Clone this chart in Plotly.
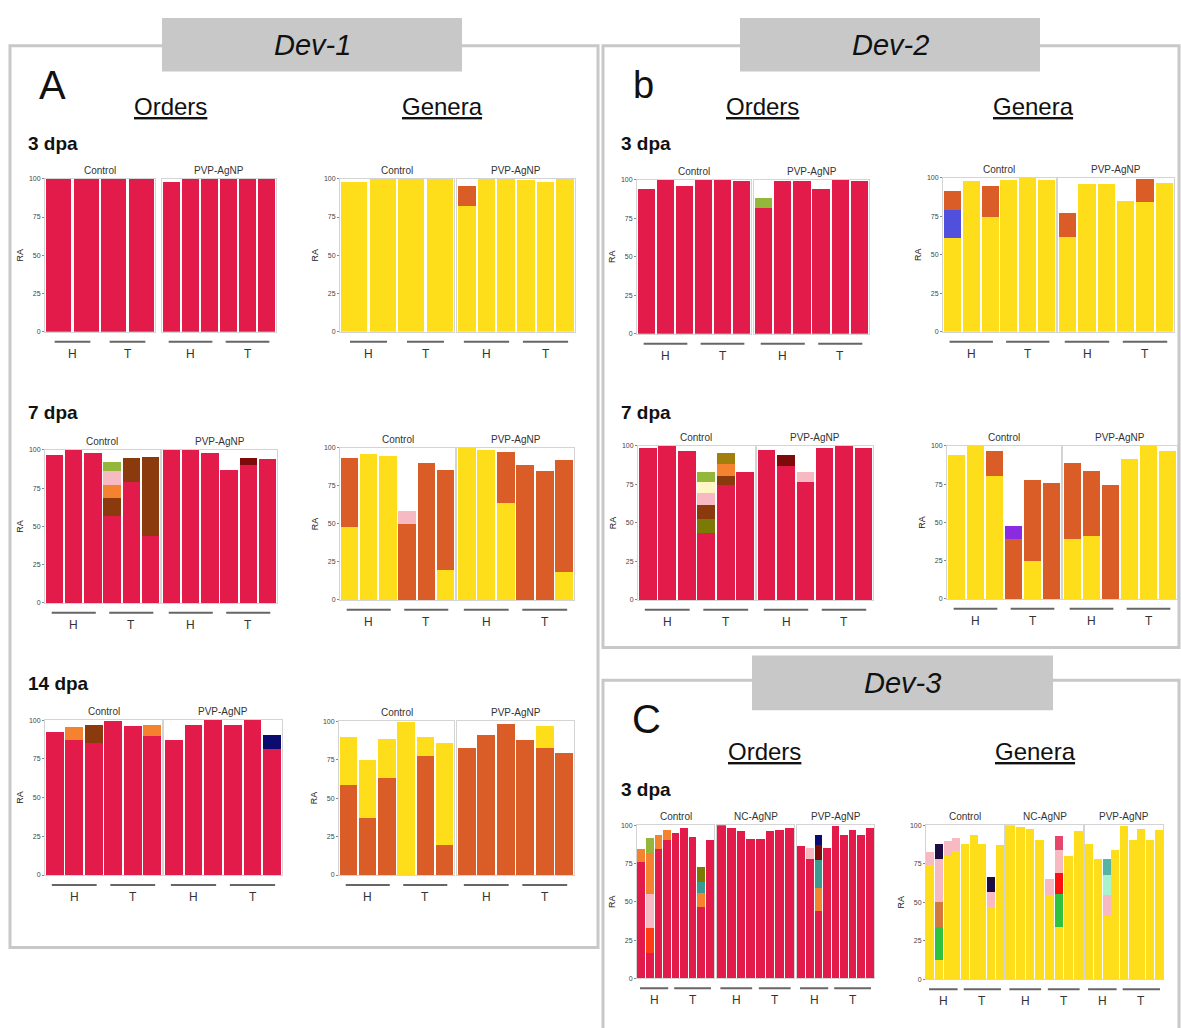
import plotly.graph_objects as go

W, H = 1181, 1028

# ======================= DATA =======================
FACETS_2 = ["Control", "PVP-AgNP"]
FACETS_3 = ["Control", "NC-AgNP", "PVP-AgNP"]
GROUPS_4_6 = ["H", "H", "T", "T"] + ["H", "H", "H", "T", "T", "T"]
GROUPS_6_6 = ["H", "H", "H", "T", "T", "T"] * 2
GROUPS_9_8_9 = ["H"] * 4 + ["T"] * 5 + ["H"] * 4 + ["T"] * 4 + ["H"] * 4 + ["T"] * 5

# ---- Dev-1, 3 dpa ----
d1_o3_red = [100, 100, 100, 100, 98, 100, 100, 100, 100, 100]

d1_g3_yellow = [98, 100, 100, 100, 82, 100, 100, 99, 98, 100]
d1_g3_orange = [0, 0, 0, 0, 13, 0, 0, 0, 0, 0]

# ---- Dev-1, 7 dpa ----
d1_o7_red = [97, 100, 98, 57, 79, 43.5, 100, 100, 98, 87, 90, 94]
d1_o7_darkred = [0, 0, 0, 0, 0, 0, 0, 0, 0, 0, 5, 0]
d1_o7_brown = [0, 0, 0, 11.5, 16, 51.7, 0, 0, 0, 0, 0, 0]
d1_o7_orange = [0, 0, 0, 8.5, 0, 0, 0, 0, 0, 0, 0, 0]
d1_o7_pink = [0, 0, 0, 9, 0, 0, 0, 0, 0, 0, 0, 0]
d1_o7_green = [0, 0, 0, 6, 0, 0, 0, 0, 0, 0, 0, 0]

d1_g7_yellow = [47.8, 96.3, 94.8, 0, 0, 20, 100, 98.7, 63.5, 0, 0, 18.5]
d1_g7_orange = [45.7, 0, 0, 50, 89.8, 65.2, 0, 0, 33.7, 88.5, 84.8, 73.9]
d1_g7_pink = [0, 0, 0, 8.7, 0, 0, 0, 0, 0, 0, 0, 0]

# ---- Dev-1, 14 dpa ----
d1_o14_red = [92.5, 87, 85, 99.4, 96, 89.7, 87, 96.8, 100, 96.8, 100, 81.3]
d1_o14_orange = [0, 8.7, 0, 0, 0, 7.1, 0, 0, 0, 0, 0, 0]
d1_o14_brown = [0, 0, 11.8, 0, 0, 0, 0, 0, 0, 0, 0, 0]
d1_o14_navy = [0, 0, 0, 0, 0, 0, 0, 0, 0, 0, 0, 9.2]

d1_g14_orange = [58.7, 37.2, 63, 0, 77, 19.4, 82.8, 90.8, 98.3, 87.5, 82.8, 79]
d1_g14_yellow = [31, 37.4, 25.6, 99.6, 12.5, 66.6, 0, 0, 0, 0, 14, 0]

# ---- Dev-2, 3 dpa ----
d2_o3_red = [94, 100, 96, 100, 100, 99, 82, 99, 99, 94, 100, 99]
d2_o3_green = [0, 0, 0, 0, 0, 0, 6, 0, 0, 0, 0, 0]

d2_g3_yellow = [61, 97.8, 74.5, 98.3, 100, 98.3, 61.7, 95.7, 95.7, 84.8, 84.2, 96.8]
d2_g3_blue = [17.8, 0, 0, 0, 0, 0, 0, 0, 0, 0, 0, 0]
d2_g3_orange = [12.8, 0, 20.1, 0, 0, 0, 15.6, 0, 0, 0, 15.2, 0]

# ---- Dev-2, 7 dpa ----
d2_o7_red = [99, 100, 96.8, 43.7, 74.7, 82.9, 97.4, 87, 76.8, 99, 100, 99]
d2_o7_darkred = [0, 0, 0, 0, 0, 0, 0, 7.2, 0, 0, 0, 0]
d2_o7_olive = [0, 0, 0, 8.7, 0, 0, 0, 0, 0, 0, 0, 0]
d2_o7_brown = [0, 0, 0, 9.3, 5.8, 0, 0, 0, 0, 0, 0, 0]
d2_o7_orange = [0, 0, 0, 0, 7.5, 0, 0, 0, 0, 0, 0, 0]
d2_o7_pink = [0, 0, 0, 8, 0, 0, 0, 0, 6.5, 0, 0, 0]
d2_o7_lightyellow = [0, 0, 0, 7.1, 0, 0, 0, 0, 0, 0, 0, 0]
d2_o7_green = [0, 0, 0, 6.5, 0, 0, 0, 0, 0, 0, 0, 0]
d2_o7_gold = [0, 0, 0, 0, 7.2, 0, 0, 0, 0, 0, 0, 0]

d2_g7_yellow = [93.9, 100, 80.4, 0, 25, 0, 39, 41, 0, 91.7, 99.8, 96.5]
d2_g7_orange = [0, 0, 16.1, 38.9, 52.6, 76, 49.9, 42.5, 74.8, 0, 0, 0]
d2_g7_purple = [0, 0, 0, 8.9, 0, 0, 0, 0, 0, 0, 0, 0]

# ---- Dev-3, 3 dpa (9 Control, 8 NC-AgNP, 9 PVP-AgNP) ----
d3_o_red = [76, 16.8, 84.3, 90.2, 95.2, 98, 92.4, 46.6, 90.2,
            100, 98, 96.3, 90.8, 91, 96, 96.9, 98,
            86.5, 78.2, 44, 85, 99.6, 94, 97, 94, 98]
d3_o_orangered = [0, 16.2, 0, 0, 0, 0, 0, 0, 0,
                  0, 0, 0, 0, 0, 0, 0, 0,
                  0, 0, 0, 0, 0, 0, 0, 0, 0]
d3_o_pink = [0, 22, 0, 0, 0, 0, 0, 0, 0,
             0, 0, 0, 0, 0, 0, 0, 0,
             0, 6.8, 0, 0, 0, 0, 0, 0, 0]
d3_o_orange = [8.3, 27, 9.4, 6.8, 0, 0, 0, 9.4, 0,
               0, 0, 0, 0, 0, 0, 0, 0,
               0, 0, 14.8, 0, 0, 0, 0, 0, 0]
d3_o_green = [0, 9.5, 0, 0, 0, 0, 0, 0, 0,
              0, 0, 0, 0, 0, 0, 0, 0,
              0, 0, 0, 0, 0, 0, 0, 0, 0]
d3_o_teal = [0, 0, 0, 0, 0, 0, 0, 7, 0,
             0, 0, 0, 0, 0, 0, 0, 0,
             0, 0, 18.3, 0, 0, 0, 0, 0, 0]
d3_o_olive = [0, 0, 0, 0, 0, 0, 0, 10, 0,
              0, 0, 0, 0, 0, 0, 0, 0,
              0, 0, 0, 0, 0, 0, 0, 0, 0]
d3_o_darkred = [0, 0, 0, 0, 0, 0, 0, 0, 0,
                0, 0, 0, 0, 0, 0, 0, 0,
                0, 0, 10, 0, 0, 0, 0, 0, 0]
d3_o_navy = [0, 0, 0, 0, 0, 0, 0, 0, 0,
             0, 0, 0, 0, 0, 0, 0, 0,
             0, 0, 6.6, 0, 0, 0, 0, 0, 0]

d3_g_yellow = [74.3, 12.4, 80.4, 83.3, 88, 94, 88, 47.2, 87,
               100, 98.9, 97.4, 90.7, 54.8, 33.7, 79.8, 96.1,
               88, 78.3, 41.3, 84.1, 99.6, 90.7, 97.4, 90.7, 96.7]
d3_g_green = [0, 21.6, 0, 0, 0, 0, 0, 0, 0,
              0, 0, 0, 0, 0, 21.7, 0, 0,
              0, 0, 0, 0, 0, 0, 0, 0, 0]
d3_g_brown = [0, 16.4, 0, 0, 0, 0, 0, 0, 0,
              0, 0, 0, 0, 0, 0, 0, 0,
              0, 0, 0, 0, 0, 0, 0, 0, 0]
d3_g_red = [0, 0, 0, 0, 0, 0, 0, 0, 0,
            0, 0, 0, 0, 0, 13.5, 0, 0,
            0, 0, 0, 0, 0, 0, 0, 0, 0]
d3_g_pink = [8.3, 27.9, 9.4, 8.4, 0, 0, 0, 9.3, 0,
             0, 0, 0, 0, 10.4, 15.4, 0, 0,
             0, 0, 13.5, 0, 0, 0, 0, 0, 0]
d3_g_mint = [0, 0, 0, 0, 0, 0, 0, 0, 0,
             0, 0, 0, 0, 0, 0, 0, 0,
             0, 0, 13, 0, 0, 0, 0, 0, 0]
d3_g_teal = [0, 0, 0, 0, 0, 0, 0, 0, 0,
             0, 0, 0, 0, 0, 0, 0, 0,
             0, 0, 10.5, 0, 0, 0, 0, 0, 0]
d3_g_rose = [0, 0, 0, 0, 0, 0, 0, 0, 0,
             0, 0, 0, 0, 0, 8.5, 0, 0,
             0, 0, 0, 0, 0, 0, 0, 0, 0]
d3_g_darknavy = [0, 9.3, 0, 0, 0, 0, 0, 9.8, 0,
                 0, 0, 0, 0, 0, 0, 0, 0,
                 0, 0, 0, 0, 0, 0, 0, 0, 0]

# ======================= STYLE =======================
COLORS = {
    "red": "#E31B4B", "brown": "#8A3A0C", "orange": "#F5822F", "pink": "#F8BAC2",
    "green": "#93B73B", "darkred": "#7E0A0A", "navy": "#0B0B70", "olive": "#7B7A05",
    "lightyellow": "#FFF6C6", "gold": "#A07F0C", "teal": "#3B9A90", "orangered": "#FF3D12",
    "yellow": "#FEDD1A", "gorange": "#DA5D28", "blue": "#5050DC", "purple": "#8A2BE2",
    "ggreen": "#2EC23E", "gbrown": "#D27A3E", "darknavy": "#1E0C45", "gred": "#FF1010",
    "rose": "#E6466C", "mint": "#A8F2CC", "gteal": "#55B4A4",
}

panels = [
    dict(facets=FACETS_2, counts=[4, 6], groups=GROUPS_4_6,
         series=[("red", d1_o3_red)],
         xs=[(45, 155), (162, 276)], y=(176, 330)),
    dict(facets=FACETS_2, counts=[4, 6], groups=GROUPS_4_6,
         series=[("yellow", d1_g3_yellow), ("gorange", d1_g3_orange)],
         xs=[(340, 454), (457, 575)], y=(176, 330)),
    dict(facets=FACETS_2, counts=[6, 6], groups=GROUPS_6_6,
         series=[("red", d1_o7_red), ("darkred", d1_o7_darkred), ("brown", d1_o7_brown),
                 ("orange", d1_o7_orange), ("pink", d1_o7_pink), ("green", d1_o7_green)],
         xs=[(45, 160), (162, 277)], y=(449, 603)),
    dict(facets=FACETS_2, counts=[6, 6], groups=GROUPS_6_6,
         series=[("yellow", d1_g7_yellow), ("gorange", d1_g7_orange), ("pink", d1_g7_pink)],
         xs=[(340, 455), (457, 574)], y=(447, 600)),
    dict(facets=FACETS_2, counts=[6, 6], groups=GROUPS_6_6,
         series=[("red", d1_o14_red), ("orange", d1_o14_orange), ("brown", d1_o14_brown),
                 ("navy", d1_o14_navy)],
         xs=[(45, 162), (164, 282)], y=(721, 877)),
    dict(facets=FACETS_2, counts=[6, 6], groups=GROUPS_6_6,
         series=[("gorange", d1_g14_orange), ("yellow", d1_g14_yellow)],
         xs=[(339, 454), (457, 574)], y=(722, 877)),
    dict(facets=FACETS_2, counts=[6, 6], groups=GROUPS_6_6,
         series=[("red", d2_o3_red), ("green", d2_o3_green)],
         xs=[(637, 751), (754, 869)], y=(177, 332)),
    dict(facets=FACETS_2, counts=[6, 6], groups=GROUPS_6_6,
         series=[("yellow", d2_g3_yellow), ("blue", d2_g3_blue), ("gorange", d2_g3_orange)],
         xs=[(943, 1056), (1058, 1174)], y=(175, 330)),
    dict(facets=FACETS_2, counts=[6, 6], groups=GROUPS_6_6,
         series=[("red", d2_o7_red), ("darkred", d2_o7_darkred), ("olive", d2_o7_olive),
                 ("brown", d2_o7_brown), ("orange", d2_o7_orange), ("pink", d2_o7_pink),
                 ("lightyellow", d2_o7_lightyellow), ("green", d2_o7_green), ("gold", d2_o7_gold)],
         xs=[(638, 755), (757, 873)], y=(445, 600)),
    dict(facets=FACETS_2, counts=[6, 6], groups=GROUPS_6_6,
         series=[("yellow", d2_g7_yellow), ("gorange", d2_g7_orange), ("purple", d2_g7_purple)],
         xs=[(947, 1061), (1063, 1177)], y=(445, 599)),
    dict(facets=FACETS_3, counts=[9, 8, 9], groups=GROUPS_9_8_9,
         series=[("red", d3_o_red), ("orangered", d3_o_orangered), ("pink", d3_o_pink),
                 ("orange", d3_o_orange), ("green", d3_o_green), ("teal", d3_o_teal),
                 ("olive", d3_o_olive), ("darkred", d3_o_darkred), ("navy", d3_o_navy)],
         xs=[(637, 714), (717, 794), (797, 874)], y=(827, 981)),
    dict(facets=FACETS_3, counts=[9, 8, 9], groups=GROUPS_9_8_9,
         series=[("yellow", d3_g_yellow), ("ggreen", d3_g_green), ("gbrown", d3_g_brown),
                 ("gred", d3_g_red), ("pink", d3_g_pink), ("mint", d3_g_mint),
                 ("gteal", d3_g_teal), ("rose", d3_g_rose), ("darknavy", d3_g_darknavy)],
         xs=[(926, 1004), (1006, 1083), (1085, 1163)], y=(827, 982)),
]

FONT = "Liberation Sans, Arial, sans-serif"


def px(x):
    return x / W


def py(y):
    return 1 - y / H


def note(text, x, y, size, color="#111", xanchor="center", yanchor="middle", xref="paper"):
    return dict(text=text, x=x, y=y, xref=xref, yref="paper", xanchor=xanchor,
                yanchor=yanchor, showarrow=False,
                font=dict(size=size, color=color, family=FONT))


fig = go.Figure()
layout = {}
shapes = []
annotations = []

k = 0
for p in panels:
    start = 0
    top, bot = p["y"]
    for fi, (fname, n) in enumerate(zip(p["facets"], p["counts"])):
        k += 1
        xa = "x" if k == 1 else f"x{k}"
        ya = "y" if k == 1 else f"y{k}"
        xkey = "xaxis" if k == 1 else f"xaxis{k}"
        ykey = "yaxis" if k == 1 else f"yaxis{k}"
        x0, x1 = p["xs"][fi]
        layout[xkey] = dict(domain=[px(x0), px(x1)], anchor=ya, range=[-0.5, n - 0.5],
                            showticklabels=False, showgrid=False, zeroline=False,
                            showline=True, mirror=True, linecolor="#D4D4D4", linewidth=1,
                            ticks="", fixedrange=True)
        ycfg = dict(domain=[py(bot), py(top)], anchor=xa, range=[0, 100],
                    showgrid=False, zeroline=False, showline=True, mirror=True,
                    linecolor="#D4D4D4", linewidth=1, fixedrange=True,
                    tickvals=[0, 25, 50, 75, 100])
        if fi == 0:
            ycfg.update(showticklabels=True, ticks="outside", ticklen=2, tickcolor="#888",
                        tickfont=dict(size=7, color="#444", family=FONT),
                        title=dict(text="RA", font=dict(size=9, color="#222", family=FONT),
                                   standoff=3))
        else:
            ycfg.update(showticklabels=False, ticks="")
        layout[ykey] = ycfg

        for name, vals in p["series"]:
            seg = vals[start:start + n]
            if any(v > 0 for v in seg):
                fig.add_trace(go.Bar(x=list(range(n)), y=seg, xaxis=xa, yaxis=ya,
                                     marker=dict(color=COLORS[name], line=dict(width=0)),
                                     width=0.9, showlegend=False, hoverinfo="skip"))

        annotations.append(note(fname, px((x0 + x1) / 2), py(top - 1), 10, "#333",
                                yanchor="bottom"))

        grp = p["groups"][start:start + n]
        for g in ["H", "T"]:
            idx = [i for i, v in enumerate(grp) if v == g]
            if not idx:
                continue
            shapes.append(dict(type="line", xref=xa, yref="paper",
                               x0=min(idx) - 0.15, x1=max(idx) + 0.15,
                               y0=py(bot + 10), y1=py(bot + 10),
                               line=dict(color="#666", width=2)))
            annotations.append(note(g, (min(idx) + max(idx)) / 2, py(bot + 22), 12, "#333",
                                    xref=xa))
        start += n

# ---- frames and headers ----
BOX = "#C8C8C8"
for (l, t, r, b) in [(10, 42, 598, 950), (603, 42, 1179, 648), (603, 681, 1179, 1040)]:
    shapes.append(dict(type="rect", xref="paper", yref="paper", x0=px(l), x1=px(r),
                       y0=py(b), y1=py(t), line=dict(color=BOX, width=3), layer="below"))

for (l, t, r, b, txt) in [(162, 14, 462, 68, "Dev-1"), (740, 14, 1040, 68, "Dev-2"),
                          (752, 656, 1053, 711, "Dev-3")]:
    shapes.append(dict(type="rect", xref="paper", yref="paper", x0=px(l), x1=px(r),
                       y0=py(b), y1=py(t), line=dict(width=0), fillcolor=BOX))
    annotations.append(note(f"<i>{txt}</i>", px((l + r) / 2), py((t + b) / 2), 29))

for (x, y, txt, size) in [(52, 82, "A", 40), (643, 82, "b", 38), (646, 720, "C", 40)]:
    annotations.append(note(txt, px(x), py(y), size))

for (x, y, txt) in [(170, 103, "Orders"), (442, 103, "Genera"),
                    (762, 103, "Orders"), (1033, 103, "Genera"),
                    (764, 753, "Orders"), (1035, 753, "Genera")]:
    annotations.append(note(f"<u>{txt}</u>", px(x), py(y), 24))

for (x, y, txt) in [(26, 140, "3 dpa"), (26, 411, "7 dpa"), (26, 684, "14 dpa"),
                    (619, 140, "3 dpa"), (619, 411, "7 dpa"), (619, 791, "3 dpa")]:
    annotations.append(note(f"<b>{txt}</b>", px(x), py(y), 19, xanchor="left"))

fig.update_layout(**layout)
fig.update_layout(width=W, height=H, margin=dict(l=0, r=0, t=0, b=0),
                  paper_bgcolor="white", plot_bgcolor="white", barmode="stack",
                  shapes=shapes, annotations=annotations, font=dict(family=FONT))

fig.write_html("out.html", config={"displayModeBar": False},
               post_script="document.body.style.margin='0';document.body.style.overflow='hidden';")
